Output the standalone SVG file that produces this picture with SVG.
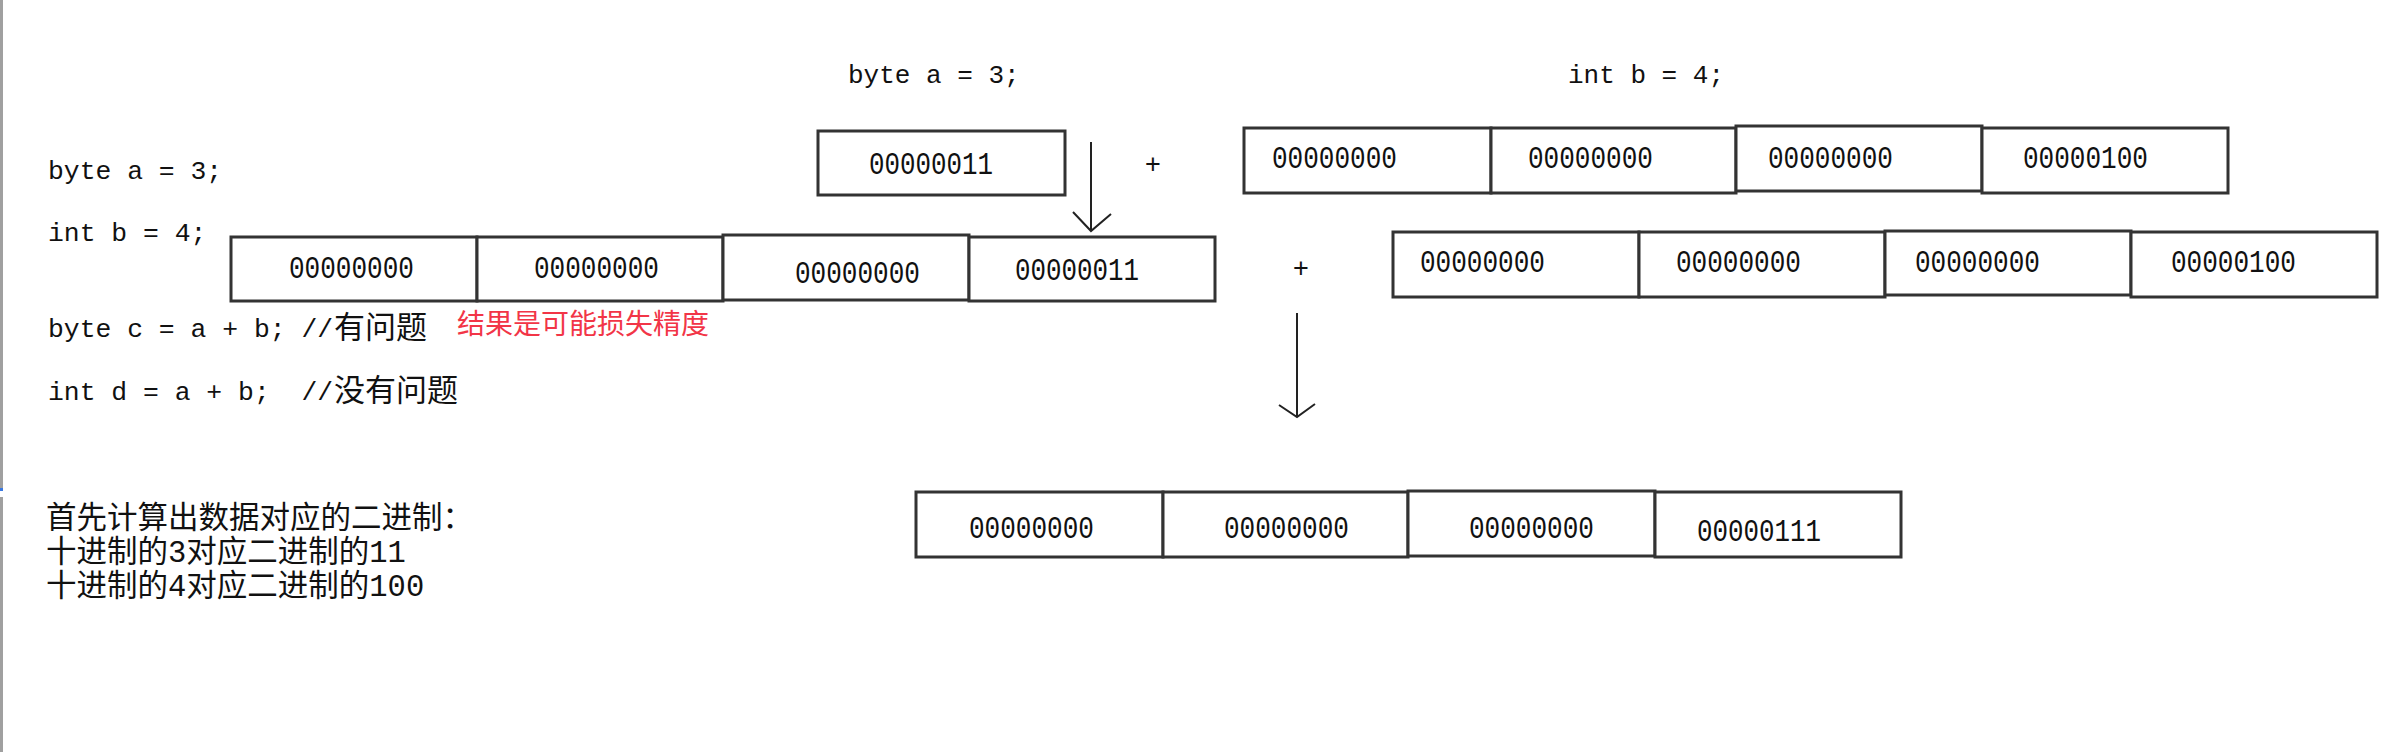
<svg xmlns="http://www.w3.org/2000/svg" width="2390" height="752" viewBox="0 0 2390 752">
<style>
  .mono { font-family: "Liberation Mono", "DejaVu Sans Mono", monospace; font-size: 31px; fill: #111; }
  .code { font-family: "Liberation Mono", "DejaVu Sans Mono", monospace; font-size: 26.4px; fill: #111; }
  .cjk { font-family: "Noto Sans CJK SC", "Noto Sans", sans-serif; font-size: 31px; fill: #111; }
  .mix { font-family: "Liberation Mono", "Noto Sans CJK SC", monospace; font-size: 30.5px; fill: #111; }
  .red { font-family: "Noto Sans CJK SC", sans-serif; font-size: 28px; fill: #f23547; }
  .plus { font-family: "Liberation Sans", sans-serif; font-size: 27px; fill: #111; text-anchor: middle; }
  .cell { fill: #fff; stroke: #333; stroke-width: 3; }
  .conn { fill: none; stroke: #222; stroke-width: 2; }
</style>
<rect x="0" y="0" width="2390" height="752" fill="#fff"/>
<line x1="1.5" y1="0" x2="1.5" y2="488" stroke="#a0a0a0" stroke-width="3"/>
<line x1="1.5" y1="497" x2="1.5" y2="752" stroke="#a0a0a0" stroke-width="3"/>
<rect x="0" y="488" width="3" height="3" fill="#3a78e0"/>

<g id="code">
  <text class="code" x="48" y="179">byte a = 3;</text>
  <text class="code" x="48" y="241">int b = 4;</text>
  <text x="48" y="337"><tspan class="code">byte c = a + b; //</tspan><tspan class="cjk" x="334" y="338">有问题</tspan></text>
  <text class="red" x="457" y="334">结果是可能损失精度</text>
  <text x="48" y="400"><tspan class="code">int d = a + b;&#160; //</tspan><tspan class="cjk" x="334" y="401">没有问题</tspan></text>
</g>

<g id="explain">
  <text class="mix" x="46" y="528">首先计算出数据对应的二进制：</text>
  <text class="mix" x="46" y="562">十进制的3对应二进制的11</text>
  <text class="mix" x="46" y="596">十进制的4对应二进制的100</text>
</g>

<g id="labels">
  <text class="code" x="848" y="83" style="font-size:26px">byte a = 3;</text>
  <text class="code" x="1568" y="83" style="font-size:26px">int b = 4;</text>
  <text class="plus" x="1153" y="173">+</text>
  <text class="plus" x="1301" y="277">+</text>
</g>

<g id="byte-a">
  <rect class="cell" x="818" y="131" width="247" height="64"/>
  <text class="mono" x="869" y="174" textLength="124" lengthAdjust="spacingAndGlyphs">00000011</text>
</g>

<g id="int-b-top">
  <rect class="cell" x="1244" y="128" width="247" height="65"/>
  <rect class="cell" x="1491" y="128" width="245" height="65"/>
  <rect class="cell" x="1736" y="126" width="246" height="65"/>
  <rect class="cell" x="1982" y="128" width="246" height="65"/>
  <text class="mono" x="1272" y="168" textLength="125" lengthAdjust="spacingAndGlyphs">00000000</text>
  <text class="mono" x="1528" y="168" textLength="125" lengthAdjust="spacingAndGlyphs">00000000</text>
  <text class="mono" x="1768" y="168" textLength="125" lengthAdjust="spacingAndGlyphs">00000000</text>
  <text class="mono" x="2023" y="168" textLength="125" lengthAdjust="spacingAndGlyphs">00000100</text>
</g>

<g id="a-promoted">
  <rect class="cell" x="231" y="237" width="246" height="64"/>
  <rect class="cell" x="477" y="237" width="246" height="64"/>
  <rect class="cell" x="723" y="235" width="246" height="65"/>
  <rect class="cell" x="969" y="237" width="246" height="64"/>
  <text class="mono" x="289" y="278" textLength="125" lengthAdjust="spacingAndGlyphs">00000000</text>
  <text class="mono" x="534" y="278" textLength="125" lengthAdjust="spacingAndGlyphs">00000000</text>
  <text class="mono" x="795" y="283" textLength="125" lengthAdjust="spacingAndGlyphs">00000000</text>
  <text class="mono" x="1015" y="280" textLength="124" lengthAdjust="spacingAndGlyphs">00000011</text>
</g>

<g id="int-b-row2">
  <rect class="cell" x="1393" y="232" width="246" height="65"/>
  <rect class="cell" x="1639" y="232" width="246" height="65"/>
  <rect class="cell" x="1885" y="231" width="246" height="64"/>
  <rect class="cell" x="2131" y="232" width="246" height="65"/>
  <text class="mono" x="1420" y="272" textLength="125" lengthAdjust="spacingAndGlyphs">00000000</text>
  <text class="mono" x="1676" y="272" textLength="125" lengthAdjust="spacingAndGlyphs">00000000</text>
  <text class="mono" x="1915" y="272" textLength="125" lengthAdjust="spacingAndGlyphs">00000000</text>
  <text class="mono" x="2171" y="272" textLength="125" lengthAdjust="spacingAndGlyphs">00000100</text>
</g>

<g id="result">
  <rect class="cell" x="916" y="492" width="247" height="65"/>
  <rect class="cell" x="1163" y="492" width="245" height="65"/>
  <rect class="cell" x="1408" y="491" width="247" height="65"/>
  <rect class="cell" x="1655" y="492" width="246" height="65"/>
  <text class="mono" x="969" y="538" textLength="125" lengthAdjust="spacingAndGlyphs">00000000</text>
  <text class="mono" x="1224" y="538" textLength="125" lengthAdjust="spacingAndGlyphs">00000000</text>
  <text class="mono" x="1469" y="538" textLength="125" lengthAdjust="spacingAndGlyphs">00000000</text>
  <text class="mono" x="1697" y="541" textLength="124" lengthAdjust="spacingAndGlyphs">00000111</text>
</g>

<g id="connectors">
  <line class="conn" x1="1091" y1="142" x2="1091" y2="231"/>
  <polyline class="conn" points="1073,212 1091,231 1111,214"/>
  <line class="conn" x1="1297" y1="313" x2="1297" y2="417"/>
  <polyline class="conn" points="1279,405 1297,417 1315,404"/>
</g>
</svg>
